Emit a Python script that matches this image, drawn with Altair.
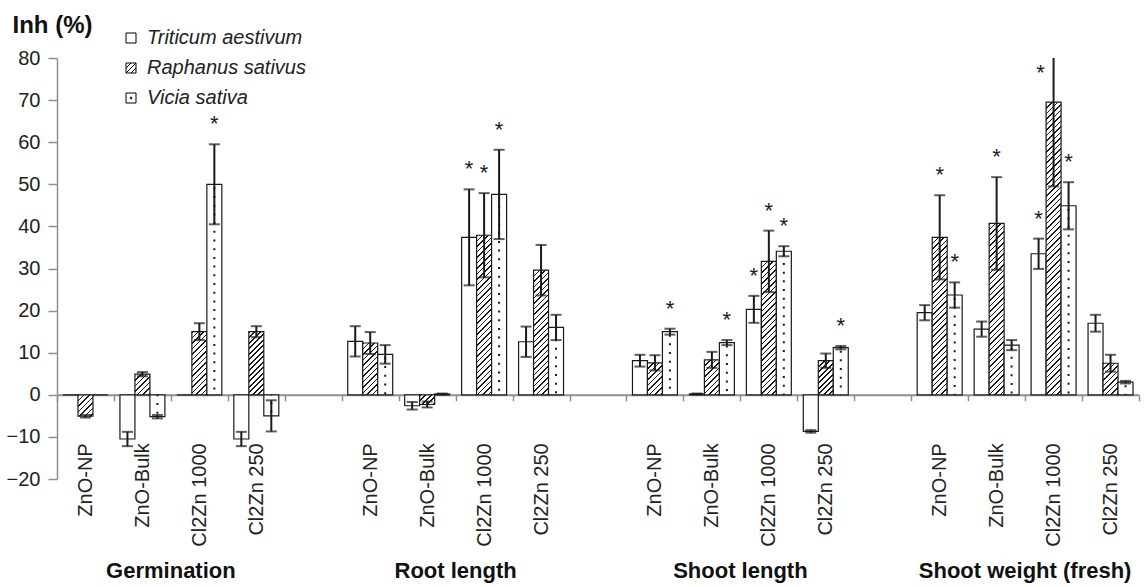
import math
import altair as alt

# ---------------- data ----------------
groups = ["Germination", "Root length", "Shoot length", "Shoot weight (fresh)"]
treatments = ["ZnO-NP", "ZnO-Bulk", "Cl2Zn 1000", "Cl2Zn 250"]
species = ["Triticum aestivum", "Raphanus sativus", "Vicia sativa"]

# values ordered group by group, treatment by treatment
triticum = [0, -10.5, 0, -10.5,   12.7, -2.6, 37.4, 12.6,   8.1, 0.2, 20.3, -8.7,   19.5, 15.6, 33.5, 17.0]
triticum_err = [0, 1.7, 0, 1.7,   3.6, 0.9, 11.4, 3.6,   1.4, 0.1, 3.2, 0.3,   1.8, 1.8, 3.6, 2.0]
triticum_star = [0, 0, 0, 0,   0, 0, 1, 0,   0, 0, 1, 0,   0, 0, 1, 0]

raphanus = [-5.1, 4.9, 15.0, 15.0,   12.3, -2.3, 37.9, 29.6,   7.6, 8.3, 31.7, 8.1,   37.4, 40.7, 69.5, 7.5]
raphanus_err = [0.3, 0.5, 2.0, 1.3,   2.6, 0.7, 10.0, 6.0,   1.8, 1.9, 7.3, 1.7,   10.0, 11.0, 20.0, 2.0]
raphanus_star = [0, 0, 0, 0,   0, 0, 1, 0,   0, 0, 1, 0,   1, 1, 1, 0]

vicia = [0, -5.2, 50.0, -5.0,   9.6, 0.2, 47.6, 16.0,   15.0, 12.4, 34.1, 11.2,   23.7, 11.8, 44.9, 3.0]
vicia_err = [0, 0.4, 9.5, 3.7,   2.2, 0.1, 10.6, 3.0,   0.7, 0.6, 1.2, 0.4,   3.0, 1.2, 5.6, 0.3]
vicia_star = [0, 0, 1, 0,   0, 0, 1, 0,   1, 1, 1, 1,   1, 0, 1, 0]

y_ticks = [-20, -10, 0, 10, 20, 30, 40, 50, 60, 70, 80]

# ---------------- layout / style ----------------
W, H = 1082, 421
Y_MIN, Y_MAX = -20, 80
PX = H / (Y_MAX - Y_MIN)
N_CAT = len(groups) * len(treatments) + len(groups) - 1
STEP = W / N_CAT
PAD_OUT = 0.4
BAR_W = STEP / (3 + 2 * PAD_OUT)
INK = "#1a1a1a"
GRAY = "#8f8f8f"
FONT = "Liberation Sans"
HATCH_P = 5.5
HATCH_LW = 0.28


def hatch_fill(v):
    w = BAR_W
    h = max(abs(v) * PX, 0.5)
    L = w + h
    a = w * L / (w * w + h * h)
    b = h * L / (w * w + h * h)
    dt = HATCH_P / L
    stops = []
    k = 0
    while k * dt < 1:
        s0 = k * dt
        s1 = min(s0 + HATCH_LW * dt, 1)
        s2 = min(s0 + dt, 1)
        stops += [
            {"offset": round(s0, 5), "color": INK},
            {"offset": round(s1, 5), "color": INK},
            {"offset": round(s1, 5), "color": "white"},
            {"offset": round(s2, 5), "color": "white"},
        ]
        k += 1
    return {"gradient": "linear", "x1": 0, "y1": 0, "x2": round(a, 6), "y2": round(b, 6), "stops": stops}


series = {
    species[0]: (triticum, triticum_err, triticum_star),
    species[1]: (raphanus, raphanus_err, raphanus_star),
    species[2]: (vicia, vicia_err, vicia_star),
}

records = []
x_domain = []
for gi, g in enumerate(groups):
    if gi > 0:
        x_domain.append(f"gap{gi}|")
    for ti, t in enumerate(treatments):
        key = f"{gi}|{t}"
        x_domain.append(key)
        idx = gi * len(treatments) + ti
        for s in species:
            vals, errs, stars = series[s]
            v, e, st = vals[idx], errs[idx], stars[idx]
            records.append({
                "key": key, "group": g, "treatment": t, "species": s,
                "v": v, "err": e, "lo": v - e, "hi": v + e, "star": st,
                "grad": hatch_fill(v) if s == species[1] else "white",
            })

group_labels = [{"key": f"{gi}|{treatments[1]}", "label": g} for gi, g in enumerate(groups)]

# ---------------- encodings ----------------
x_axis = alt.Axis(
    title=None, offset=-(0 - Y_MIN) * PX, domainColor=GRAY, domainWidth=2,
    tickColor=GRAY, tickWidth=1.5, tickSize=6, tickBand="extent",
    labelAngle=-90, labelFontSize=20, labelFont=FONT, labelColor="#222222",
    labelPadding=42, labelOverlap=False, labelExpr="split(datum.label, '|')[1]", grid=False,
)
x_scale = alt.Scale(domain=x_domain, paddingInner=0, paddingOuter=0)
y_scale = alt.Scale(domain=[Y_MIN, Y_MAX], nice=False, zero=False)
y_axis = alt.Axis(
    values=y_ticks, grid=False, domainColor=GRAY, domainWidth=1.5, tickColor=GRAY,
    tickWidth=1.5, tickSize=9, labelPadding=8, labelFontSize=20, labelFont=FONT,
    labelColor="#222222", title="Inh (%)", titleAngle=0, titleAlign="left",
    titleBaseline="alphabetic", titleX=-45, titleY=-26, titleFontSize=24,
    titleFontWeight="bold", titleFont=FONT, titleColor="#111111",
)


def X():
    return alt.X("key:N", scale=x_scale, axis=x_axis, title=None)


def XO():
    return alt.XOffset("species:N", scale=alt.Scale(domain=species, paddingInner=0, paddingOuter=PAD_OUT))


def Y(field):
    return alt.Y(field, scale=y_scale, axis=y_axis, stack=None)


base = alt.Chart(alt.Data(values=records))

bars = base.mark_bar(stroke=INK, strokeWidth=1.2).encode(
    x=X(), xOffset=XO(), y=Y("v:Q"), y2=alt.datum(0),
    fill=alt.Fill("grad:N", scale=None),
)

dots = base.transform_filter(
    f"datum.species == '{species[2]}' && datum.v != 0"
).mark_rule(color=INK, strokeWidth=2, strokeDash=[2, 6.7], strokeDashOffset=-3).encode(
    x=X(), xOffset=XO(), y=Y("v:Q"), y2=alt.datum(0),
)

err_rule = base.transform_filter("datum.err > 0").mark_rule(
    color=INK, strokeWidth=2, clip=True
).encode(x=X(), xOffset=XO(), y=Y("lo:Q"), y2="hi:Q")

cap_lo = base.transform_filter("datum.err > 0").mark_tick(
    color=INK, size=11, thickness=2, orient="horizontal", clip=True
).encode(x=X(), xOffset=XO(), y=Y("lo:Q"))

cap_hi = base.transform_filter("datum.err > 0").mark_tick(
    color=INK, size=11, thickness=2, orient="horizontal", clip=True
).encode(x=X(), xOffset=XO(), y=Y("hi:Q"))

stars = base.transform_filter(f"datum.star == 1 && datum.hi <= {Y_MAX}").mark_text(
    text="*", fontSize=22, font=FONT, color=INK, baseline="alphabetic", dy=-13
).encode(x=X(), xOffset=XO(), y=Y("hi:Q"))

stars_clipped = base.transform_filter(f"datum.star == 1 && datum.hi > {Y_MAX}").mark_text(
    text="*", fontSize=22, font=FONT, color=INK, baseline="alphabetic", dy=22, dx=-13
).encode(x=X(), xOffset=XO(), y=alt.Y(datum=Y_MAX, scale=y_scale, axis=y_axis))

glabels = alt.Chart(alt.Data(values=group_labels)).mark_text(
    fontSize=22, fontWeight="bold", font=FONT, color="#111111",
    baseline="alphabetic", align="center", dx=STEP / 2,
).encode(x=X(), y=alt.value(520), text="label:N")

shape_paths = [
    "M-1,-1H1V1H-1Z",
    "M-1,-1H1V1H-1Z M-1,1L1,-1 M-1,0L0,-1 M0,1L1,0",
    "M-1,-1H1V1H-1Z M-0.15,-0.15H0.15V0.15H-0.15Z",
]
legend_layer = base.transform_filter("false").mark_point(
    filled=False, color="black", strokeWidth=1, size=100, opacity=1
).encode(
    shape=alt.Shape(
        "species:N",
        scale=alt.Scale(domain=species, range=shape_paths),
        legend=alt.Legend(
            title=None, orient="none", legendX=64, legendY=-30, padding=0,
            symbolSize=100, symbolStrokeColor="black", symbolStrokeWidth=1,
            symbolOpacity=1, labelFontSize=20, labelFont=FONT,
            labelFontStyle="italic", labelColor="#222222", labelOffset=6,
            rowPadding=10, labelLimit=400,
        ),
    )
)

chart = alt.layer(
    bars, dots, err_rule, cap_lo, cap_hi, stars, stars_clipped, glabels, legend_layer
).properties(
    width=W, height=H,
    autosize=alt.AutoSizeParams(type="none"),
    padding={"left": 57, "top": 58, "right": 6, "bottom": 108},
    background="white",
).configure_view(stroke=None)

chart.save("out.html", embed_options={"renderer": "svg", "actions": False})
